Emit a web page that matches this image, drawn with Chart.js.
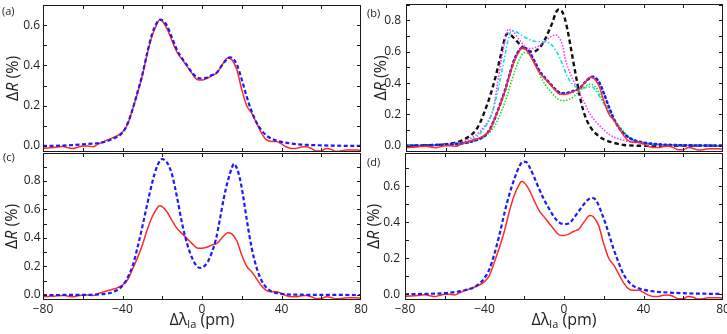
<!DOCTYPE html>
<html>
<head>
<meta charset="utf-8">
<script src="https://cdn.jsdelivr.net/npm/chart.js@4.4.1/dist/chart.umd.min.js"></script>
<style>
  body { margin: 0; background: #fff; }
  #wrap { position: relative; width: 727px; height: 334px; }
  #wrap canvas { position: absolute; left: 0; top: 0; }
</style>
</head>
<body>
<div id="wrap">
  <canvas id="pa" width="727" height="334"></canvas>
  <canvas id="pb" width="727" height="334"></canvas>
  <canvas id="pc" width="727" height="334"></canvas>
  <canvas id="pd" width="727" height="334"></canvas>
</div>
<script>
// Data (detuning in pm, dR in %)
const xTickLabels = [-80, -40, 0, 40, 80];

// measured signal (red, same in every panel)
const measX = [-80, -77.5, -75, -72.5, -70, -67.5, -65, -62.5, -60, -57.5, -55, -52.5, -50, -47.5, -45, -42.5, -40, -37.5, -35, -32.5, -30, -27.5, -25, -22.5, -21.5, -20, -17.5, -15, -12.5, -10, -7.5, -5, -2.5, 0, 2.5, 5, 7.5, 10, 13, 15, 17.5, 20, 22.5, 25, 27.5, 30, 32.5, 35, 37.5, 40, 42.5, 45, 47.5, 50, 52.5, 55, 57.5, 60, 62.5, 65, 67.5, 70, 72.5, 75, 77.5, 80];
const measY = [-0.012, -0.01, -0.008, -0.005, -0.003, -0.008, -0.013, -0.006, 0.0, 0.0, -0.004, 0.008, 0.02, 0.03, 0.04, 0.052, 0.07, 0.105, 0.18, 0.26, 0.35, 0.46, 0.55, 0.61, 0.626, 0.62, 0.58, 0.52, 0.465, 0.43, 0.395, 0.36, 0.33, 0.327, 0.335, 0.35, 0.362, 0.40, 0.437, 0.428, 0.38, 0.28, 0.2, 0.163, 0.113, 0.063, 0.03, 0.022, 0.022, 0.01, -0.005, -0.012, -0.012, -0.005, -0.004, -0.012, -0.025, -0.025, -0.012, -0.017, -0.027, -0.025, -0.02, -0.02, -0.02, -0.022];

// fitted model (blue in a and b)
const fitX = [-80, -70, -60, -50, -45, -40, -37.5, -35, -32.5, -30, -27.5, -25, -22.5, -21, -20, -17.5, -15, -12.5, -10, -7.5, -5, -2.5, 0, 2.5, 5, 7.5, 10, 12.5, 14, 15, 17.5, 20, 22.5, 25, 27.5, 30, 32.5, 35, 40, 45, 50, 60, 70, 80];
const fitY = [0.0, 0.002, 0.008, 0.018, 0.035, 0.066, 0.11, 0.18, 0.265, 0.355, 0.465, 0.56, 0.615, 0.627, 0.625, 0.595, 0.535, 0.475, 0.435, 0.4, 0.365, 0.34, 0.335, 0.34, 0.352, 0.365, 0.4, 0.43, 0.44, 0.438, 0.405, 0.33, 0.245, 0.17, 0.115, 0.077, 0.052, 0.036, 0.02, 0.012, 0.007, 0.003, 0.001, 0.0];

// panel (b) variants
const blackX = [-80, -70, -60, -55, -50, -45, -42.5, -40, -37.5, -35, -32.5, -30, -29, -27, -25, -22, -19, -16, -13, -10, -8, -6, -4.5, -3, -1.5, 0, 1.5, 3, 4.3, 6, 7.5, 9.4, 11, 13, 16, 20, 25, 30, 40, 80];
const blackY = [0.0, 0.003, 0.01, 0.02, 0.045, 0.095, 0.15, 0.23, 0.32, 0.43, 0.56, 0.69, 0.715, 0.705, 0.68, 0.64, 0.61, 0.6, 0.62, 0.675, 0.73, 0.79, 0.845, 0.87, 0.862, 0.82, 0.74, 0.64, 0.547, 0.43, 0.33, 0.228, 0.17, 0.12, 0.075, 0.04, 0.018, 0.005, 0.0, 0.0];

const magentaX = [-80, -60, -50, -45, -40, -38, -36, -34, -32, -30, -28.4, -26, -23, -20, -18, -15, -12, -9, -6.5, -4.7, -3, -1, 0.3, 2, 4.3, 7, 9.4, 13, 16.4, 20, 23, 29.5, 38, 50, 80];
const magentaY = [0.0, 0.008, 0.03, 0.065, 0.13, 0.17, 0.23, 0.38, 0.54, 0.67, 0.743, 0.73, 0.68, 0.635, 0.62, 0.625, 0.645, 0.675, 0.70, 0.707, 0.695, 0.64, 0.56, 0.49, 0.42, 0.35, 0.29, 0.2, 0.145, 0.1, 0.068, 0.036, 0.017, 0.005, 0.0];

const cyanX = [-80, -60, -50, -45, -40, -37.5, -35, -32.5, -30, -28, -26.6, -24, -21, -18, -14, -10, -7, -4, -1, 1.5, 4.3, 7, 9.4, 12, 13.9, 16, 17.9, 20, 23, 25.5, 28, 30.5, 33, 36, 39.6, 45, 50, 80];
const cyanY = [0.0, 0.008, 0.025, 0.05, 0.12, 0.18, 0.28, 0.42, 0.58, 0.7, 0.735, 0.725, 0.7, 0.68, 0.665, 0.663, 0.65, 0.6, 0.52, 0.44, 0.39, 0.37, 0.368, 0.375, 0.375, 0.35, 0.31, 0.265, 0.2, 0.15, 0.11, 0.075, 0.05, 0.03, 0.017, 0.008, 0.004, 0.0];

const greenX = [-80, -60, -50, -45, -40, -37.5, -35, -32.5, -30, -27.5, -25, -22.5, -20, -18, -16, -14, -12, -10, -7, -4, -2, 0, 2, 4.3, 7, 10, 13, 15, 17, 19, 21.4, 24, 26, 28, 31, 34.6, 40, 50, 80];
const greenY = [0.0, 0.005, 0.015, 0.03, 0.06, 0.09, 0.13, 0.2, 0.28, 0.38, 0.48, 0.56, 0.595, 0.585, 0.55, 0.5, 0.44, 0.395, 0.345, 0.305, 0.29, 0.288, 0.295, 0.31, 0.34, 0.375, 0.392, 0.385, 0.35, 0.3, 0.247, 0.19, 0.15, 0.12, 0.075, 0.036, 0.015, 0.005, 0.0];

// panel (c) model
const narrowX = [-80, -60, -50, -45, -40, -37.5, -35, -32.5, -30, -27.5, -25, -22.5, -20, -18, -17, -15, -12.5, -10, -7.5, -5, -2.5, -1, 1, 3, 5, 7, 9, 11, 13, 15, 16, 17.5, 19, 20.5, 22.5, 25, 27.5, 30, 32.5, 35, 40, 50, 80];
const narrowY = [0.0, 0.001, 0.006, 0.02, 0.065, 0.12, 0.2, 0.33, 0.48, 0.64, 0.79, 0.905, 0.953, 0.935, 0.915, 0.84, 0.68, 0.5, 0.36, 0.26, 0.2, 0.19, 0.2, 0.235, 0.3, 0.39, 0.53, 0.68, 0.8, 0.89, 0.92, 0.89, 0.82, 0.71, 0.53, 0.33, 0.19, 0.1, 0.05, 0.025, 0.008, 0.002, 0.0];

// panel (d) model
const broadX = [-80, -70, -60, -55, -50, -45, -42.5, -40, -37.5, -35, -32.5, -30, -27.5, -25, -22.5, -20.5, -19, -17, -15, -12.5, -10, -7.5, -5, -2.5, 0, 2, 4, 6, 8, 10, 12, 14, 15.5, 17, 19, 21, 23, 25, 27.5, 30, 32.5, 35, 37.5, 40, 45, 50, 60, 70, 80];
const broadY = [0.0, 0.002, 0.006, 0.012, 0.022, 0.04, 0.06, 0.09, 0.14, 0.225, 0.33, 0.45, 0.555, 0.64, 0.71, 0.737, 0.735, 0.7, 0.65, 0.585, 0.525, 0.475, 0.43, 0.4, 0.39, 0.392, 0.41, 0.44, 0.47, 0.5, 0.525, 0.535, 0.53, 0.505, 0.45, 0.39, 0.32, 0.25, 0.175, 0.11, 0.07, 0.045, 0.033, 0.025, 0.016, 0.011, 0.006, 0.003, 0.002];

const FONT = "'Open Sans', 'DejaVu Sans', sans-serif";
const TEXT = '#222';
const Y_W = 30;
const X_H = 20;

const pts = (xs, ys) => xs.map((x, i) => ({ x: x, y: ys[i] }));

function line(xs, ys, color, width, dash, cap) {
  return {
    data: pts(xs, ys),
    borderColor: color,
    borderWidth: width,
    borderDash: dash || [],
    borderCapStyle: cap || 'butt',
    fill: false,
    pointRadius: 0,
    cubicInterpolationMode: 'monotone'
  };
}

const red = () => line(measX, measY, '#ff2a2a', 1.5);
const blueDash = (xs, ys) => line(xs, ys, '#1a1aff', 2.2, [4, 2.5]);

const panels = [
  { id: 'pa', tag: '(a)', tagX: 2, tagY: 11.5, box: [43, 5, 361, 152], yMin: -0.03, yMax: 0.70, bottom: false, titleX: 12.5, tickPad: 3,
    datasets: [blueDash(fitX, fitY), red()] },
  { id: 'pb', tag: '(b)', tagX: 367, tagY: 14, box: [406, 4, 723, 152], yMin: -0.04, yMax: 0.905, bottom: false, titleX: 380, tickPad: 5,
    datasets: [
      red(),
      line(fitX, fitY, '#1a1aff', 2.6, [1.5, 3.5], 'round'),
      line(greenX, greenY, '#22dd22', 1.6, [1.5, 1.6]),
      line(cyanX, cyanY, '#11e0e0', 1.6, [4, 2, 1.5, 2]),
      line(magentaX, magentaY, '#ff33ff', 1.6, [1.5, 1.6]),
      line(blackX, blackY, '#111', 2.4, [4.5, 3])
    ] },
  { id: 'pc', tag: '(c)', tagX: 3, tagY: 157.5, box: [43, 153, 361, 300], yMin: -0.035, yMax: 0.995, bottom: true, titleX: 11.5, tickPad: 2.5,
    datasets: [blueDash(narrowX, narrowY), red()] },
  { id: 'pd', tag: '(d)', tagX: 367, tagY: 163, box: [405, 153, 723, 300], yMin: -0.032, yMax: 0.785, bottom: true, titleX: 373.5, tickPad: 5,
    datasets: [blueDash(broadX, broadY), red()] }
];

// draws text made of parts with different fonts / offsets, centred on cx
function richText(ctx, parts, cx, baseY) {
  let total = 0;
  parts.forEach(p => { ctx.font = p.font; p.w = ctx.measureText(p.t).width; total += p.w; });
  let x = cx - total / 2;
  ctx.textAlign = 'left';
  ctx.textBaseline = 'alphabetic';
  parts.forEach(p => {
    ctx.font = p.font;
    ctx.fillText(p.t, x, baseY + (p.dy || 0));
    x += p.w;
  });
}

// frame, inward ticks, panel tag and axis titles
const framePlugin = {
  id: 'frame',
  afterDraw(chart) {
    const cfg = chart.config.options.plugins.frame;
    const { ctx, chartArea: a, scales } = chart;
    const sx = scales.x, sy = scales.y;
    ctx.save();
    ctx.strokeStyle = '#1a1a1a';
    ctx.lineWidth = 1;
    ctx.strokeRect(a.left + 0.5, a.top + 0.5, a.right - a.left - 1, a.bottom - a.top - 1);

    ctx.beginPath();
    for (let v = -60; v <= 60; v += 20) {
      const px = Math.round(sx.getPixelForValue(v)) + 0.5;
      ctx.moveTo(px, a.bottom); ctx.lineTo(px, a.bottom - 4);
      ctx.moveTo(px, a.top); ctx.lineTo(px, a.top + 4);
    }
    for (let k = Math.ceil(sy.min * 10); k <= Math.floor(sy.max * 10); k++) {
      const py = Math.round(sy.getPixelForValue(k / 10)) + 0.5;
      ctx.moveTo(a.left, py); ctx.lineTo(a.left + 4, py);
      ctx.moveTo(a.right, py); ctx.lineTo(a.right - 4, py);
    }
    ctx.stroke();

    ctx.fillStyle = TEXT;
    ctx.font = '11px ' + FONT;
    ctx.textAlign = 'left';
    ctx.textBaseline = 'middle';
    ctx.fillText(cfg.tag, cfg.tagX, cfg.tagY);

    ctx.save();
    ctx.translate(cfg.titleX, (a.top + a.bottom) / 2);
    ctx.rotate(-Math.PI / 2);
    richText(ctx, [
      { t: 'Δ', font: '16px ' + FONT },
      { t: 'R', font: 'italic 16px ' + FONT },
      { t: ' (%)', font: '16px ' + FONT }
    ], 0, 5.5);
    ctx.restore();

    if (cfg.bottom) {
      richText(ctx, [
        { t: 'Δλ', font: '16px ' + FONT },
        { t: 'la', font: '11px ' + FONT, dy: 3 },
        { t: ' (pm)', font: '16px ' + FONT }
      ], (a.left + a.right) / 2, 325);
    }
    ctx.restore();
  }
};

panels.forEach(p => {
  const [L, T, R, B] = p.box;
  new Chart(document.getElementById(p.id), {
    type: 'line',
    data: { datasets: p.datasets },
    plugins: [framePlugin],
    options: {
      responsive: false,
      animation: false,
      devicePixelRatio: 1,
      layout: { padding: { left: L - Y_W, top: T, right: 727 - R, bottom: 334 - B - (p.bottom ? X_H : 0) } },
      plugins: {
        legend: { display: false },
        tooltip: { enabled: false },
        frame: { tag: p.tag, tagX: p.tagX, tagY: p.tagY, titleX: p.titleX, bottom: p.bottom }
      },
      scales: {
        x: {
          type: 'linear', min: -80, max: 80, display: p.bottom,
          grid: { display: false, drawTicks: false },
          border: { display: false },
          ticks: {
            color: TEXT, font: { family: FONT, size: 12 }, padding: 2,
            maxRotation: 0, autoSkip: false,
            callback: v => (v < 0 ? '\u2212' + Math.abs(v) : String(v))
          },
          afterBuildTicks: s => { s.ticks = xTickLabels.map(v => ({ value: v })); },
          afterFit: s => { s.height = p.bottom ? X_H : 0; s.paddingLeft = 0; s.paddingRight = 0; }
        },
        y: {
          type: 'linear', min: p.yMin, max: p.yMax,
          grid: { display: false, drawTicks: false },
          border: { display: false },
          ticks: {
            color: TEXT, font: { family: FONT, size: 12 }, padding: p.tickPad,
            callback: v => v.toFixed(1)
          },
          afterBuildTicks: s => {
            const t = [];
            for (let k = 0; k * 0.2 <= p.yMax; k++) t.push({ value: Math.round(k * 2) / 10 });
            s.ticks = t;
          },
          afterFit: s => { s.width = Y_W; s.paddingTop = 0; s.paddingBottom = 0; }
        }
      }
    }
  });
});
</script>
</body>
</html>
